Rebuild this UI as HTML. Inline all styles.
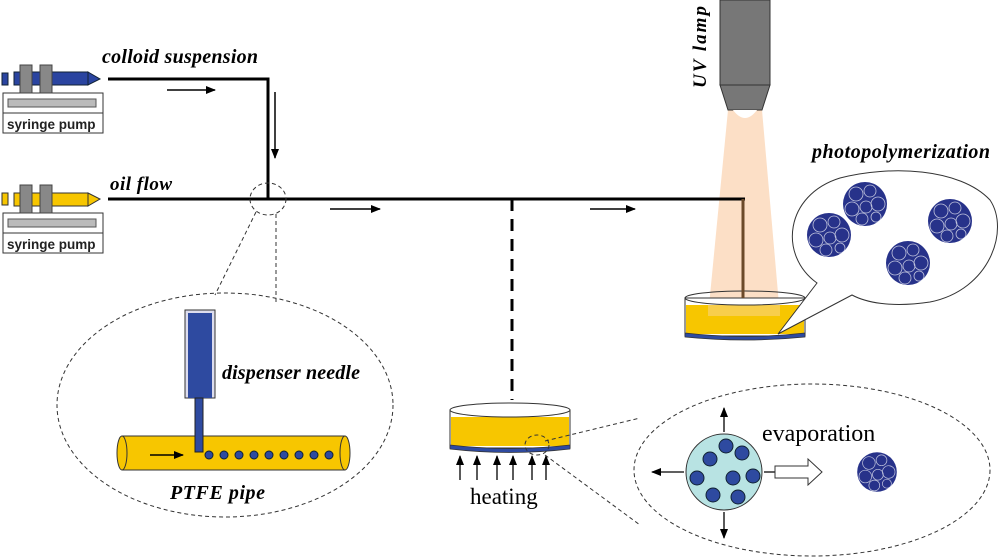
<!DOCTYPE html>
<html><head><meta charset="utf-8"><style>body{margin:0;background:#fff}svg{display:block}</style></head><body>
<svg width="1000" height="557" viewBox="0 0 1000 557" xmlns="http://www.w3.org/2000/svg">
<defs>
<marker id="ah" markerWidth="10" markerHeight="8" refX="9" refY="4" orient="auto" markerUnits="userSpaceOnUse"><path d="M0,0 L10,4 L0,8 Z" fill="#000"/></marker>
<g id="sph">
<circle r="22" fill="#27328a"/>
<g fill="none" stroke="#fff" stroke-width="0.8" opacity="0.7"><circle cx="-9" cy="-10" r="7"/><circle cx="5" cy="-13" r="6"/><circle cx="13" cy="0" r="7"/><circle cx="-13" cy="5" r="7"/><circle cx="1" cy="3" r="6"/><circle cx="-3" cy="15" r="6"/><circle cx="11" cy="13" r="5"/></g>
</g>
</defs>
<!-- pump 1 -->
<rect x="3" y="93" width="100" height="40" fill="#fff" stroke="#333"/>
<line x1="3" y1="113" x2="103" y2="113" stroke="#333"/>
<rect x="8" y="99" width="88" height="8" fill="#bbb" stroke="#555"/>
<text x="7" y="129" font-family="Liberation Sans,sans-serif" font-size="13.5" font-weight="bold" fill="#222">syringe pump</text>
<rect x="2" y="73" width="6" height="12" fill="#2a44a0" stroke="#123"/>
<rect x="14" y="72" width="74" height="13" fill="#2a44a0" stroke="#123"/>
<rect x="20" y="65" width="12" height="28" fill="#888" stroke="#444"/>
<rect x="40" y="65" width="12" height="28" fill="#888" stroke="#444"/>
<path d="M88,72 L100,79 L88,85Z" fill="#2a44a0" stroke="#123"/>
<!-- pump 2 -->
<rect x="3" y="213" width="100" height="40" fill="#fff" stroke="#333"/>
<line x1="3" y1="233" x2="103" y2="233" stroke="#333"/>
<rect x="8" y="219" width="88" height="8" fill="#bbb" stroke="#555"/>
<text x="7" y="249" font-family="Liberation Sans,sans-serif" font-size="13.5" font-weight="bold" fill="#222">syringe pump</text>
<rect x="2" y="193" width="6" height="12" fill="#f7c600" stroke="#333"/>
<rect x="14" y="193" width="74" height="13" fill="#f7c600" stroke="#333"/>
<rect x="20" y="185" width="12" height="28" fill="#888" stroke="#444"/>
<rect x="40" y="185" width="12" height="28" fill="#888" stroke="#444"/>
<path d="M88,193 L100,199 L88,206Z" fill="#f7c600" stroke="#333"/>
<!-- labels -->
<g font-family="Liberation Serif,serif" font-style="italic" font-weight="bold">
<text x="102" y="63" font-size="20" textLength="156">colloid suspension</text>
<text x="110" y="190" font-size="19" textLength="62">oil flow</text>
<text x="222" y="379" font-size="20" textLength="138">dispenser needle</text>
<text x="170" y="499" font-size="20" textLength="95">PTFE pipe</text>
<text x="812" y="158" font-size="20" textLength="178">photopolymerization</text>
<text transform="translate(706,88) rotate(-90)" font-size="19" textLength="82">UV lamp</text>
</g>
<!-- beam -->
<path d="M728,110 L762,110 L780,316 L708,316Z" fill="#fbd9bc" opacity="0.85"/>
<!-- lines -->
<path d="M108,79 L268,79 L268,199" fill="none" stroke="#000" stroke-width="3"/>
<path d="M108,199 L745,199" fill="none" stroke="#000" stroke-width="3"/>
<line x1="512" y1="199" x2="512" y2="400" stroke="#000" stroke-width="3" stroke-dasharray="12,8"/>
<line x1="167" y1="90" x2="215" y2="90" stroke="#000" stroke-width="1.5" marker-end="url(#ah)"/>
<line x1="275" y1="92" x2="275" y2="158" stroke="#000" stroke-width="1.5" marker-end="url(#ah)"/>
<line x1="330" y1="209" x2="380" y2="209" stroke="#000" stroke-width="1.5" marker-end="url(#ah)"/>
<line x1="590" y1="209" x2="635" y2="209" stroke="#000" stroke-width="1.5" marker-end="url(#ah)"/>
<!-- UV lamp -->
<rect x="720" y="0" width="50" height="85" fill="#777" stroke="#333"/>
<path d="M720,85 L770,85 L762,110 L728,110Z" fill="#777" stroke="#333"/>
<path d="M733,110 Q745,126 757,110Z" fill="#fff"/>
<!-- zoom-in circle left -->
<g fill="none" stroke="#333" stroke-dasharray="4,3">
<ellipse cx="268" cy="199" rx="18" ry="16"/>
<line x1="256" y1="212" x2="215" y2="295"/>
<line x1="276" y1="214" x2="276" y2="303"/>
<ellipse cx="225" cy="405" rx="168" ry="112"/>
</g>
<!-- needle & pipe -->
<rect x="122" y="436" width="223" height="34" fill="#f7c600" stroke="#333"/>
<ellipse cx="122" cy="453" rx="5" ry="17" fill="#f7c600" stroke="#333"/>
<ellipse cx="345" cy="453" rx="5" ry="17" fill="#f7c600" stroke="#333"/>
<rect x="185" y="310" width="30" height="88" fill="#dde" stroke="#333"/>
<rect x="188" y="313" width="24" height="85" fill="#2e4aa0"/>
<rect x="195" y="398" width="8" height="54" fill="#2e4aa0" stroke="#222"/>
<line x1="150" y1="455" x2="183" y2="455" stroke="#000" stroke-width="1.5" marker-end="url(#ah)"/>
<g fill="#2e4aa0" stroke="#123"><circle cx="209" cy="455" r="4"/><circle cx="224" cy="455" r="4"/><circle cx="239" cy="455" r="4"/><circle cx="254" cy="455" r="4"/><circle cx="269" cy="455" r="4"/><circle cx="284" cy="455" r="4"/><circle cx="299" cy="455" r="4"/><circle cx="314" cy="455" r="4"/><circle cx="329" cy="455" r="4"/></g>
<!-- heating dish -->
<rect x="450" y="410" width="120" height="38" fill="#fff" stroke="#333"/>
<rect x="451" y="417" width="118" height="29" fill="#f7c600"/>
<path d="M450,445 Q510,452 570,445 L570,449 Q510,456 450,449Z" fill="#2e4aa0" stroke="#333" stroke-width="0.7"/>
<ellipse cx="510" cy="410" rx="60" ry="7" fill="#fff" stroke="#333"/>
<g stroke="#000" stroke-width="1.3">
<line x1="460" y1="480" x2="460" y2="456" marker-end="url(#ah)"/><line x1="477" y1="480" x2="477" y2="456" marker-end="url(#ah)"/><line x1="497" y1="480" x2="497" y2="456" marker-end="url(#ah)"/><line x1="513" y1="480" x2="513" y2="456" marker-end="url(#ah)"/><line x1="532" y1="480" x2="532" y2="456" marker-end="url(#ah)"/><line x1="546" y1="480" x2="546" y2="456" marker-end="url(#ah)"/>
</g>
<text x="470" y="504" font-family="Liberation Serif,serif" font-size="23">heating</text>
<!-- evap zoom -->
<g fill="none" stroke="#333" stroke-dasharray="4,3">
<ellipse cx="537" cy="445" rx="12" ry="10"/>
<line x1="545" y1="441" x2="640" y2="418"/>
<line x1="545" y1="455" x2="640" y2="525"/>
<ellipse cx="812" cy="470" rx="178" ry="86"/>
</g>
<circle cx="724" cy="472" r="38" fill="#b8e3e3" stroke="#333"/>
<g fill="#2e4aa0" stroke="#123"><circle cx="697" cy="478" r="7"/><circle cx="710" cy="459" r="7"/><circle cx="726" cy="446" r="7"/><circle cx="742" cy="453" r="7"/><circle cx="753" cy="476" r="7"/><circle cx="733" cy="478" r="7"/><circle cx="713" cy="495" r="7"/><circle cx="738" cy="497" r="7"/></g>
<g stroke="#000" stroke-width="1.3">
<line x1="724" y1="432" x2="724" y2="408" marker-end="url(#ah)"/><line x1="724" y1="512" x2="724" y2="538" marker-end="url(#ah)"/><line x1="684" y1="472" x2="652" y2="472" marker-end="url(#ah)"/><line x1="764" y1="472" x2="794" y2="472" marker-end="url(#ah)"/>
</g>
<path d="M775,466 L808,466 L808,459 L822,472 L808,485 L808,478 L775,478Z" fill="#fff" stroke="#333"/>
<text x="762" y="441" font-family="Liberation Serif,serif" font-size="24">evaporation</text>
<use href="#sph" transform="translate(877,472) scale(0.9)"/>
<!-- UV dish -->
<rect x="685" y="298" width="120" height="38" fill="#fff" stroke="#333"/>
<rect x="686" y="305" width="118" height="29" fill="#f7c600"/>
<rect x="708" y="305" width="72" height="11" fill="#fbd9bc" opacity="0.4"/>
<path d="M685,333 Q745,340 805,333 L805,337 Q745,343 685,337Z" fill="#2e4aa0" stroke="#333" stroke-width="0.7"/>
<ellipse cx="745" cy="298" rx="60" ry="7" fill="none" stroke="#333"/>
<path d="M743,199 L743,298" stroke="#6b4a2a" stroke-width="3" fill="none"/>
<!-- bubble -->
<path d="M817,283 C778,255 785,195 840,178 C890,165 960,168 990,200 C1010,230 990,290 930,302 C890,308 865,302 852,295 L778,334 Z" fill="#fff" stroke="#333"/>
<use href="#sph" x="829" y="235"/>
<use href="#sph" x="865" y="204"/>
<use href="#sph" x="950" y="221"/>
<use href="#sph" x="908" y="263"/>
</svg>
</body></html>
